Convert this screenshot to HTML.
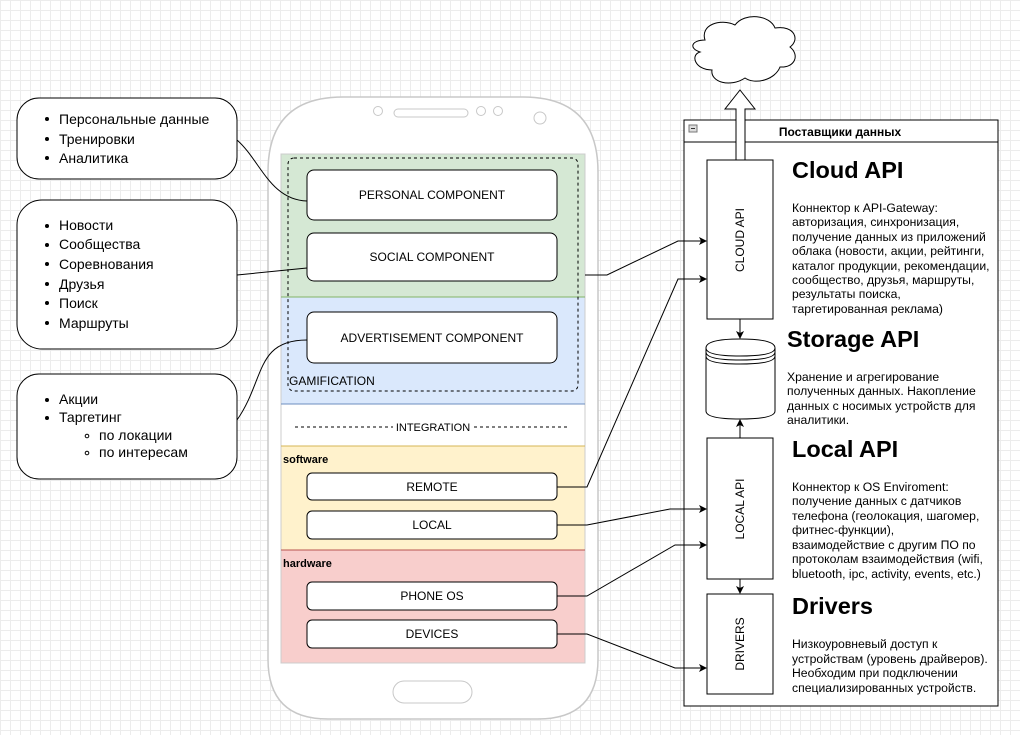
<!DOCTYPE html>
<html><head><meta charset="utf-8"><style>
body{margin:0;width:1020px;height:730px;overflow:hidden;background:#fff;
background-image:linear-gradient(#ececec 1px,transparent 1px),linear-gradient(90deg,#ececec 1px,transparent 1px);background-size:10px 10px;font-family:"Liberation Sans",sans-serif;}
</style></head><body>
<svg width="1020" height="730" viewBox="0 0 1020 730" xmlns="http://www.w3.org/2000/svg" font-family="Liberation Sans, sans-serif">
<defs><marker id="a" markerWidth="8" markerHeight="8" refX="7" refY="4" orient="auto" markerUnits="userSpaceOnUse"><path d="M0,0 L8,4 L0,8 L2,4z" fill="#000"/></marker></defs>
<rect x="17" y="98" width="220" height="81" rx="22" fill="#fff" stroke="#000"/>
<rect x="17" y="200" width="220" height="149" rx="25" fill="#fff" stroke="#000"/>
<rect x="17" y="374" width="220" height="105" rx="22" fill="#fff" stroke="#000"/>
<g font-size="14" fill="#000">
<text x="59" y="124">Персональные данные</text><text x="59" y="144">Тренировки</text><text x="59" y="163">Аналитика</text>
<text x="59" y="230">Новости</text><text x="59" y="249">Сообщества</text><text x="59" y="269">Соревнования</text><text x="59" y="289">Друзья</text><text x="59" y="308">Поиск</text><text x="59" y="328">Маршруты</text>
<text x="59" y="404">Акции</text><text x="59" y="422">Таргетинг</text><text x="99" y="440">по локации</text><text x="99" y="457">по интересам</text>
</g>
<g fill="#000"><circle cx="47" cy="119" r="2"/><circle cx="47" cy="139" r="2"/><circle cx="47" cy="158" r="2"/>
<circle cx="47" cy="226" r="2"/><circle cx="47" cy="245" r="2"/><circle cx="47" cy="264" r="2"/><circle cx="47" cy="284" r="2"/><circle cx="47" cy="303" r="2"/><circle cx="47" cy="323" r="2"/>
<circle cx="47" cy="400" r="2"/><circle cx="47" cy="418" r="2"/></g>
<circle cx="87" cy="436" r="1.8" fill="none" stroke="#000"/><circle cx="87" cy="453" r="1.8" fill="none" stroke="#000"/>
<path d="M343,97 H523 Q598,97 598,172 V659 Q598,719 538,719 H328 Q268,719 268,659 V172 Q268,97 343,97z" fill="#fff" stroke="#c8c8c8" stroke-width="1.5"/>
<g fill="none" stroke="#c8c8c8"><circle cx="378" cy="111" r="4.5"/><rect x="394" y="109" width="74" height="8" rx="4"/><circle cx="481" cy="111" r="4.5"/><circle cx="498" cy="111" r="4.5"/><circle cx="540" cy="118" r="6"/><rect x="393" y="681" width="79" height="22" rx="11"/></g>
<rect x="281" y="154" width="304" height="143" fill="#d5e8d4"/>
<rect x="281" y="297" width="304" height="107" fill="#dae8fc"/>
<rect x="281" y="404" width="304" height="42" fill="#fff"/>
<rect x="281" y="446" width="304" height="104" fill="#fff2cc"/>
<rect x="281" y="550" width="304" height="113" fill="#f8cecc"/>
<rect x="281" y="154" width="304" height="509" fill="none" stroke="#ccc"/>
<line x1="281" y1="297" x2="585" y2="297" stroke="#82b366"/>
<line x1="281" y1="404" x2="585" y2="404" stroke="#6c8ebf"/>
<line x1="281" y1="446" x2="585" y2="446" stroke="#d6b656"/>
<line x1="281" y1="550" x2="585" y2="550" stroke="#b85450"/>
<rect x="288" y="158" width="290" height="233" rx="6" fill="none" stroke="#000" stroke-dasharray="3,3"/>
<g fill="#fff" stroke="#000">
<rect x="307" y="170" width="250" height="50" rx="7"/><rect x="307" y="233" width="250" height="48" rx="7"/><rect x="307" y="312" width="250" height="51" rx="7"/>
<rect x="307" y="473" width="250" height="27" rx="5"/><rect x="307" y="511" width="250" height="28" rx="5"/><rect x="307" y="582" width="250" height="28" rx="5"/><rect x="307" y="620" width="250" height="28" rx="5"/>
</g>
<g font-size="12" text-anchor="middle" fill="#000">
<text x="432" y="199">PERSONAL COMPONENT</text><text x="432" y="261">SOCIAL COMPONENT</text><text x="432" y="342">ADVERTISEMENT COMPONENT</text>
<text x="432" y="491">REMOTE</text><text x="432" y="529">LOCAL</text><text x="432" y="600">PHONE OS</text><text x="432" y="638">DEVICES</text>
<text x="433" y="431" font-size="11">INTEGRATION</text>
</g>
<line x1="295" y1="427" x2="393" y2="427" stroke="#000" stroke-dasharray="3,3"/><line x1="474" y1="427" x2="570" y2="427" stroke="#000" stroke-dasharray="3,3"/>
<text x="289" y="385" font-size="12">GAMIFICATION</text>
<text x="283" y="463" font-size="11" font-weight="bold">software</text>
<text x="283" y="567" font-size="11" font-weight="bold">hardware</text>
<g fill="none" stroke="#000">
<path d="M237,140 C260,160 270,200 307,201"/>
<path d="M237,275 L307,268"/>
<path d="M237,420 C265,380 255,340 307,340"/>
</g>
<rect x="684" y="120" width="314" height="586" fill="#fff" stroke="#000"/>
<line x1="684" y1="142" x2="998" y2="142" stroke="#000"/>
<rect x="689" y="125" width="8" height="7" fill="#ddd" stroke="#777"/><line x1="691" y1="128.5" x2="695" y2="128.5" stroke="#333"/>
<text x="840" y="136" font-size="12" font-weight="bold" text-anchor="middle">Поставщики данных</text>
<path d="M705,40 C700,25 720,18 735,25 C745,12 770,15 775,28 C795,25 800,40 790,47 C800,55 795,68 780,67 C775,80 755,85 745,78 C730,88 710,82 712,70 C695,70 690,55 700,52 C688,48 692,40 705,40z" fill="#fff" stroke="#000"/>
<path d="M736,160 V109 H725 L740,90 L755,109 H745 V160z" fill="#fff" stroke="#000"/>
<rect x="707" y="160" width="66" height="159" fill="#fff" stroke="#000"/>
<rect x="707" y="438" width="66" height="141" fill="#fff" stroke="#000"/>
<rect x="707" y="594" width="66" height="100" fill="#fff" stroke="#000"/>
<g font-size="12" text-anchor="middle">
<text transform="translate(744,240) rotate(-90)">CLOUD API</text>
<text transform="translate(744,509) rotate(-90)">LOCAL API</text>
<text transform="translate(744,644) rotate(-90)">DRIVERS</text>
</g>
<path d="M706,348 Q706,339 740,339 Q775,339 775,348 V411 Q775,419 740,419 Q706,419 706,411z" fill="#fff" stroke="#000"/>
<path d="M706,348 Q706,356 740,356 Q775,356 775,348 M706,352 Q706,360 740,360 Q775,360 775,352 M706,356 Q706,364 740,364 Q775,364 775,356" fill="none" stroke="#000"/>
<g stroke="#000" fill="none" marker-end="url(#a)">
<line x1="740" y1="319" x2="740" y2="338"/>
<line x1="740" y1="438" x2="740" y2="420"/>
<line x1="740" y1="579" x2="740" y2="593"/>
<path d="M585,275 L607,275 L678,241 L706,241"/>
<path d="M557,487 L587,487 L678,279 L706,279"/>
<path d="M557,525 L587,525 L670,509 L706,509"/>
<path d="M557,596 L587,596 L675,545 L706,545"/>
<path d="M557,634 L587,634 L675,668 L706,668"/>
</g>
<g font-weight="bold" font-size="23.5"><text x="792" y="178">Cloud API</text><text x="787" y="347">Storage API</text><text x="792" y="457">Local API</text><text x="792" y="614">Drivers</text></g>
<g font-size="12.2">
<text x="792" y="212">Коннектор к API-Gateway:</text><text x="792" y="226">авторизация, синхронизация,</text><text x="792" y="241">получение данных из приложений</text><text x="792" y="255">облака (новости, акции, рейтинги,</text><text x="792" y="270">каталог продукции, рекомендации,</text><text x="792" y="284">сообщество, друзья, маршруты,</text><text x="792" y="298">результаты поиска,</text><text x="792" y="313">таргетированная реклама)</text>
<text x="787" y="381">Хранение и агрегирование</text><text x="787" y="395">полученных данных. Накопление</text><text x="787" y="410">данных с носимых устройств для</text><text x="787" y="424">аналитики.</text>
<text x="792" y="491">Коннектор к OS Enviroment:</text><text x="792" y="505">получение данных с датчиков</text><text x="792" y="520">телефона (геолокация, шагомер,</text><text x="792" y="534">фитнес-функции),</text><text x="792" y="549">взаимодействие с другим ПО по</text><text x="792" y="563">протоколам взаимодействия (wifi,</text><text x="792" y="578">bluetooth, ipc, activity, events, etc.)</text>
<text x="792" y="648">Низкоуровневый доступ к</text><text x="792" y="663">устройствам (уровень драйверов).</text><text x="792" y="677">Необходим при подключении</text><text x="792" y="692">специализированных устройств.</text>
</g>
</svg>
</body></html>
